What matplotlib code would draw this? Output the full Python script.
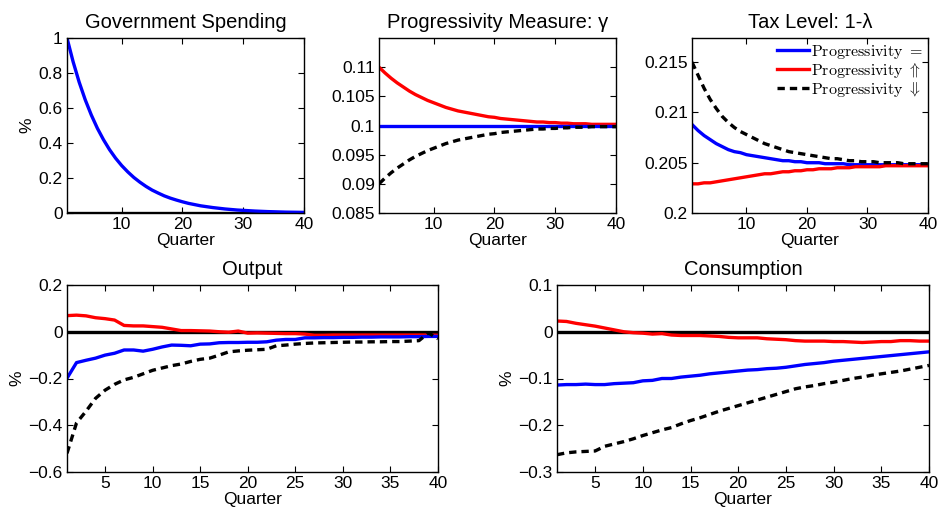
import matplotlib
matplotlib.use("Agg")
import matplotlib.pyplot as plt
import numpy as np

plt.rcParams.update({
    "font.family": ["Liberation Sans", "DejaVu Sans"],
    "mathtext.fontset": "cm",
    "xtick.direction": "in",
    "ytick.direction": "in",
    "xtick.top": True,
    "ytick.right": True,
    "axes.linewidth": 1.0,
})

quarters = np.arange(1, 41)

# Government spending shock (%)
gov = [1.0, 0.865, 0.748, 0.647, 0.56, 0.484, 0.419, 0.362, 0.313, 0.271,
       0.235, 0.203, 0.176, 0.152, 0.131, 0.114, 0.098, 0.085, 0.074, 0.064,
       0.055, 0.048, 0.041, 0.036, 0.031, 0.027, 0.023, 0.020, 0.017, 0.015,
       0.013, 0.011, 0.0095, 0.008, 0.007, 0.006, 0.005, 0.0045, 0.004, 0.0035]

# progressivity measure gamma
gamma_eq = [0.1] * 40
gamma_up = [0.11, 0.1090, 0.1081, 0.1073, 0.1066, 0.1059, 0.1053, 0.1048, 0.1043, 0.1039,
            0.1035, 0.1031, 0.1028, 0.1025, 0.1023, 0.1021, 0.1019, 0.1017, 0.1015, 0.1014,
            0.1012, 0.1011, 0.1010, 0.1009, 0.1008, 0.1007, 0.1006, 0.1006, 0.1005, 0.1005,
            0.1004, 0.1004, 0.1003, 0.1003, 0.1003, 0.1002, 0.1002, 0.1002, 0.1002, 0.1002]
gamma_down = [0.09, 0.0910, 0.0919, 0.0927, 0.0934, 0.0941, 0.0947, 0.0952, 0.0957, 0.0961,
              0.0965, 0.0969, 0.0972, 0.0975, 0.0977, 0.0979, 0.0981, 0.0983, 0.0985, 0.0986,
              0.0988, 0.0989, 0.0990, 0.0991, 0.0992, 0.0993, 0.0994, 0.0994, 0.0995, 0.0995,
              0.0996, 0.0996, 0.0997, 0.0997, 0.0997, 0.0998, 0.0998, 0.0998, 0.0998, 0.0998]

# tax level 1-lambda
tax_eq = [0.2088, 0.2082, 0.2077, 0.2073, 0.2069, 0.2066, 0.2063, 0.2061, 0.2060, 0.2058,
          0.2057, 0.2056, 0.2055, 0.2054, 0.2053, 0.2052, 0.2052, 0.2051, 0.2051, 0.2050,
          0.2050, 0.2050, 0.2049, 0.2049, 0.2049, 0.2049, 0.2048, 0.2048, 0.2048, 0.2048,
          0.2048, 0.2048, 0.2048, 0.2048, 0.2048, 0.2048, 0.2048, 0.2048, 0.2048, 0.2048]
tax_up = [0.2029, 0.2029, 0.2030, 0.2030, 0.2031, 0.2032, 0.2033, 0.2034, 0.2035, 0.2036,
          0.2037, 0.2038, 0.2039, 0.2039, 0.2040, 0.2041, 0.2041, 0.2042, 0.2042, 0.2043,
          0.2043, 0.2044, 0.2044, 0.2044, 0.2045, 0.2045, 0.2045, 0.2046, 0.2046, 0.2046,
          0.2046, 0.2046, 0.2047, 0.2047, 0.2047, 0.2047, 0.2047, 0.2047, 0.2047, 0.2047]
tax_down = [0.2150, 0.2137, 0.2124, 0.2113, 0.2104, 0.2096, 0.2090, 0.2085, 0.2081, 0.2078,
            0.2075, 0.2072, 0.2069, 0.2067, 0.2065, 0.2063, 0.2061, 0.2060, 0.2059, 0.2058,
            0.2057, 0.2056, 0.2055, 0.2054, 0.2054, 0.2053, 0.2052, 0.2052, 0.2051, 0.2051,
            0.2051, 0.2050, 0.2050, 0.2050, 0.2050, 0.2049, 0.2049, 0.2049, 0.2049, 0.2049]

# output response (%)
out_eq = [-0.199, -0.132, -0.122, -0.113, -0.100, -0.092, -0.078, -0.078, -0.083, -0.075,
          -0.065, -0.057, -0.058, -0.060, -0.053, -0.052, -0.047, -0.046, -0.046, -0.045,
          -0.045, -0.043, -0.036, -0.033, -0.033, -0.026, -0.026, -0.025, -0.025, -0.024,
          -0.024, -0.023, -0.023, -0.022, -0.022, -0.022, -0.021, -0.021, -0.020, -0.020]
out_up = [0.069, 0.071, 0.068, 0.060, 0.056, 0.050, 0.027, 0.025, 0.025, 0.022,
          0.019, 0.012, 0.005, 0.005, 0.004, 0.003, 0.000, -0.002, 0.003, -0.006,
          -0.005, -0.006, -0.007, -0.008, -0.008, -0.010, -0.015, -0.015, -0.014, -0.014,
          -0.014, -0.014, -0.014, -0.014, -0.014, -0.014, -0.014, -0.014, -0.014, -0.015]
out_down = [-0.520, -0.390, -0.340, -0.285, -0.250, -0.225, -0.206, -0.195, -0.180, -0.165,
            -0.155, -0.145, -0.138, -0.127, -0.118, -0.113, -0.100, -0.086, -0.082, -0.079,
            -0.077, -0.075, -0.060, -0.057, -0.053, -0.050, -0.048, -0.047, -0.046, -0.045,
            -0.044, -0.044, -0.043, -0.043, -0.042, -0.042, -0.040, -0.038, -0.005, -0.030]

# consumption response (%)
cons_eq = [-0.114, -0.113, -0.113, -0.112, -0.113, -0.113, -0.111, -0.110, -0.109, -0.105,
           -0.104, -0.100, -0.100, -0.097, -0.095, -0.093, -0.090, -0.088, -0.086, -0.084,
           -0.082, -0.081, -0.079, -0.078, -0.076, -0.073, -0.070, -0.068, -0.066, -0.063,
           -0.061, -0.059, -0.057, -0.055, -0.053, -0.051, -0.049, -0.047, -0.045, -0.043]
cons_up = [0.023, 0.022, 0.018, 0.015, 0.012, 0.008, 0.004, 0.000, -0.002, -0.003,
           -0.005, -0.004, -0.007, -0.008, -0.008, -0.008, -0.009, -0.010, -0.012, -0.013,
           -0.013, -0.013, -0.015, -0.016, -0.017, -0.019, -0.020, -0.020, -0.020, -0.021,
           -0.021, -0.022, -0.023, -0.022, -0.021, -0.021, -0.019, -0.019, -0.020, -0.020]
cons_down = [-0.263, -0.259, -0.257, -0.256, -0.255, -0.245, -0.240, -0.235, -0.229, -0.222,
             -0.216, -0.210, -0.205, -0.197, -0.190, -0.184, -0.177, -0.170, -0.164, -0.158,
             -0.152, -0.146, -0.140, -0.134, -0.128, -0.122, -0.118, -0.115, -0.111, -0.108,
             -0.104, -0.100, -0.097, -0.093, -0.090, -0.087, -0.084, -0.080, -0.076, -0.072]

BLUE = "#0000ff"
RED = "#ff0000"
LW = 2.4
DASH = (0, (2.2, 1.5))
title_fs = 14.5
tick_fs = 12.5

fig = plt.figure(figsize=(9.4, 5.13), dpi=100)
W, H = 940, 513


def make_ax(x0, y0, x1, y1):
    return fig.add_axes([x0 / W, 1 - y1 / H, (x1 - x0) / W, (y1 - y0) / H])


def style(ax, title, xticks, ylim, yticks, yticklabels, ylabel=None):
    ax.set_xlim(1, 40)
    ax.set_xticks(xticks)
    ax.set_ylim(*ylim)
    ax.set_yticks(yticks)
    ax.set_yticklabels(yticklabels)
    ax.tick_params(labelsize=tick_fs, length=4, width=0.8, pad=3)
    ax.set_title(title, fontsize=title_fs, pad=7)
    ax.set_xlabel("Quarter", fontsize=tick_fs, labelpad=0.5)
    if ylabel:
        ax.set_ylabel(ylabel, fontsize=tick_fs, labelpad=3)


ax1 = make_ax(67, 38, 304, 213)
ax1.axhline(0, color="black", lw=LW)
ax1.plot(quarters, gov, color=BLUE, lw=LW)
style(ax1, "Government Spending", [10, 20, 30, 40], (0, 1),
      [0, 0.2, 0.4, 0.6, 0.8, 1], ["0", "0.2", "0.4", "0.6", "0.8", "1"], "%")

ax2 = make_ax(379, 38, 616, 213)
ax2.plot(quarters, gamma_up, color=RED, lw=LW)
ax2.plot(quarters, gamma_eq, color=BLUE, lw=LW)
ax2.plot(quarters, gamma_down, color="black", lw=LW, ls=DASH)
style(ax2, "Progressivity Measure: γ", [10, 20, 30, 40], (0.085, 0.115),
      [0.085, 0.09, 0.095, 0.1, 0.105, 0.11],
      ["0.085", "0.09", "0.095", "0.1", "0.105", "0.11"])

ax3 = make_ax(692, 38, 928, 213)
l1, = ax3.plot(quarters, tax_eq, color=BLUE, lw=LW)
l2, = ax3.plot(quarters, tax_up, color=RED, lw=LW)
l3, = ax3.plot(quarters, tax_down, color="black", lw=LW, ls=DASH)
style(ax3, "Tax Level: 1-λ", [10, 20, 30, 40], (0.2, 0.2174),
      [0.2, 0.205, 0.21, 0.215], ["0.2", "0.205", "0.21", "0.215"])
ax3.legend([l1, l2, l3],
           [r"$\mathrm{Progressivity}\ =$", r"$\mathrm{Progressivity}\ \Uparrow$",
            r"$\mathrm{Progressivity}\ \Downarrow$"],
           loc="upper right", frameon=False, fontsize=11.5, handlelength=2.0,
           handletextpad=0.15, labelspacing=0.0, borderaxespad=0.15,
           borderpad=0.15)

ax4 = make_ax(67, 285, 438, 472)
ax4.axhline(0, color="black", lw=LW)
ax4.plot(quarters, out_up, color=RED, lw=LW)
ax4.plot(quarters, out_eq, color=BLUE, lw=LW)
ax4.plot(quarters, out_down, color="black", lw=LW, ls=DASH)
style(ax4, "Output", [5, 10, 15, 20, 25, 30, 35, 40], (-0.6, 0.2),
      [-0.6, -0.4, -0.2, 0, 0.2], ["\u22120.6", "\u22120.4", "\u22120.2", "0", "0.2"], "%")

ax5 = make_ax(557, 285, 929, 472)
ax5.axhline(0, color="black", lw=LW)
ax5.plot(quarters, cons_up, color=RED, lw=LW)
ax5.plot(quarters, cons_eq, color=BLUE, lw=LW)
ax5.plot(quarters, cons_down, color="black", lw=LW, ls=DASH)
style(ax5, "Consumption", [5, 10, 15, 20, 25, 30, 35, 40], (-0.3, 0.1),
      [-0.3, -0.2, -0.1, 0, 0.1], ["\u22120.3", "\u22120.2", "\u22120.1", "0", "0.1"], "%")

fig.savefig("out.png", dpi=100, facecolor="white")
